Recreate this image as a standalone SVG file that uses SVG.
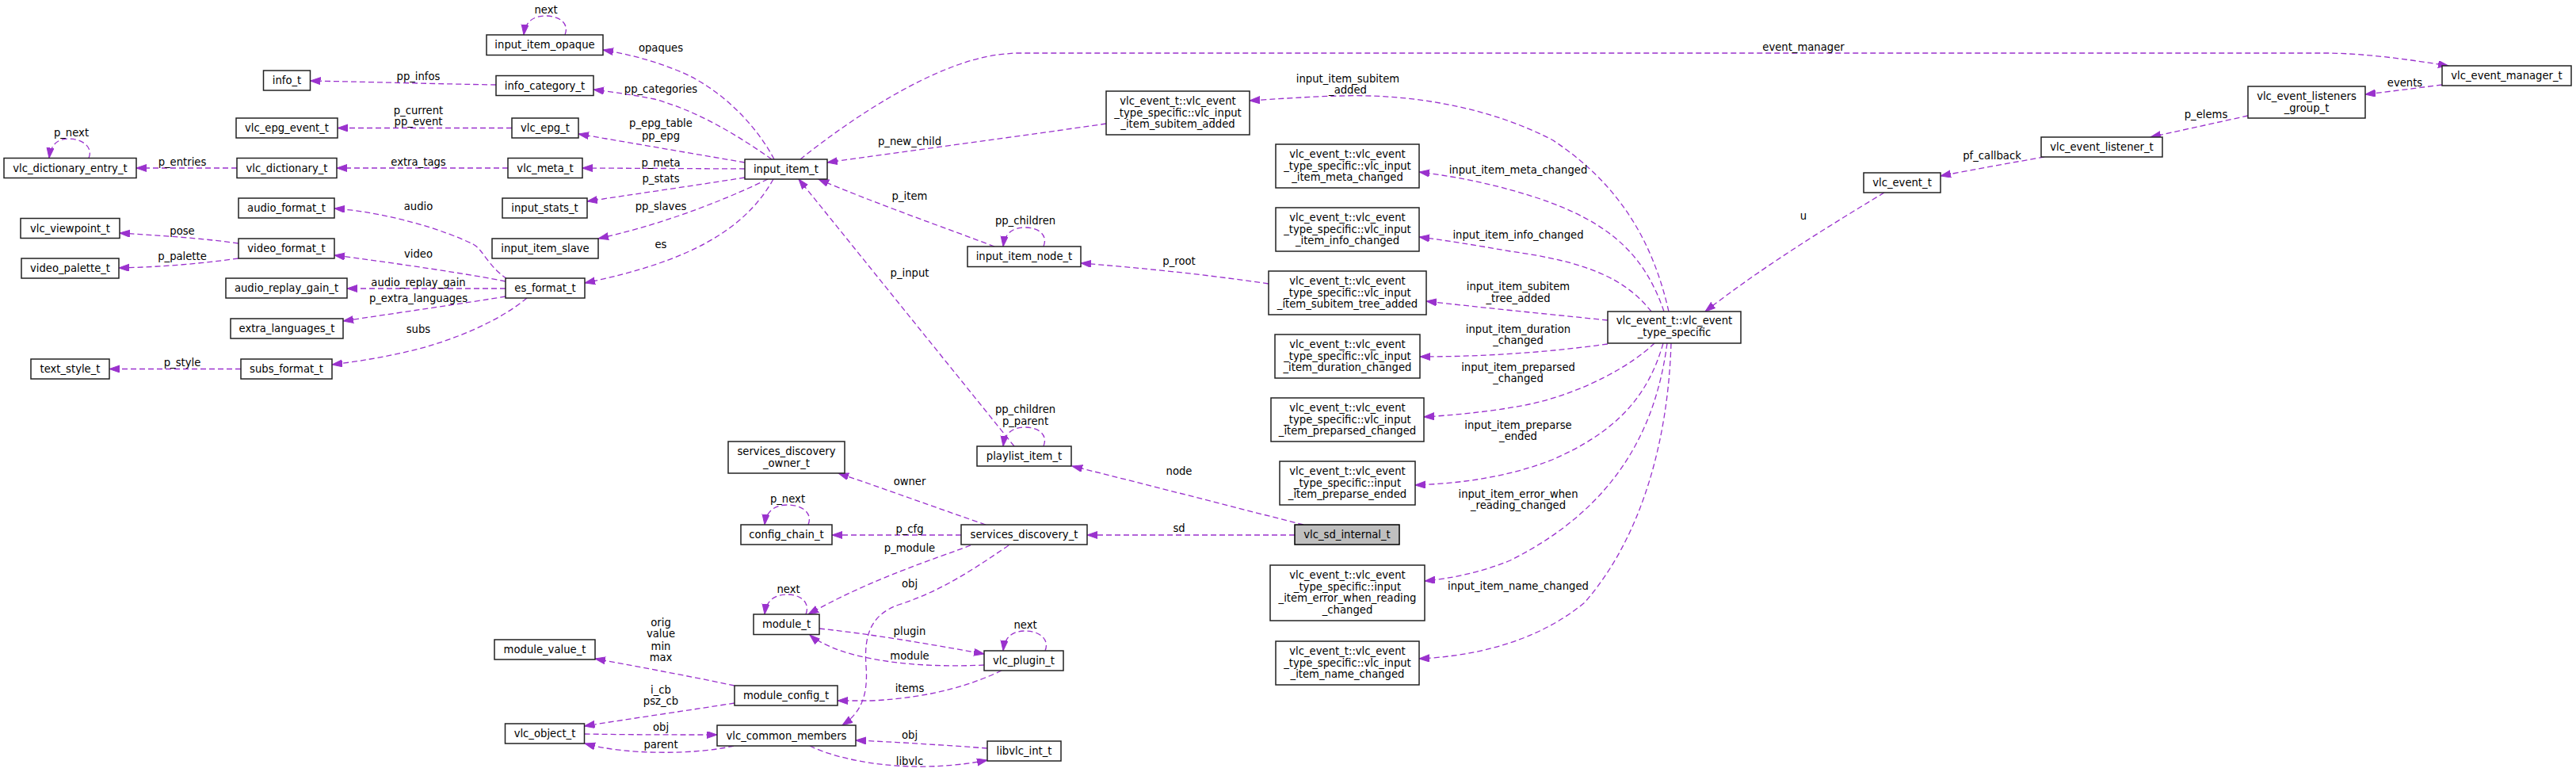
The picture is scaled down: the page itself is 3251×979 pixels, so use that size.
<svg xmlns="http://www.w3.org/2000/svg" width="3251" height="979" viewBox="0 0 3251 979">
<style>
.n rect{fill:#fff;stroke:#222;stroke-width:1.5}
.n.main rect{fill:#bfbfbf;stroke:#000}
text{font-family:"DejaVu Sans","Liberation Sans",sans-serif;font-size:13.2px;fill:#000;text-anchor:middle}
.e path{fill:none;stroke:#9a32cd;stroke-width:1.3;stroke-dasharray:7,4;marker-end:url(#a)}
</style>
<defs>
<marker id="a" markerWidth="14" markerHeight="10" refX="13" refY="4.5" orient="auto" markerUnits="userSpaceOnUse" viewBox="0 0 14 10">
<path d="M0,0 L13,4.5 L0,9 z" fill="#9a32cd" stroke="#9a32cd" stroke-width="1"/>
</marker>
</defs>
<rect width="3251" height="979" fill="#fff"/>
<g id="edges" class="e">
<path d="M112,199.5 C118,186 104,175 87,175 C72,175 64,183 62,199.5"/>
<path d="M299,212 L172,212"/>
<path d="M301,307 C250,300 200,297 151,294"/>
<path d="M301,326 C250,333 200,337 150,338"/>
<path d="M304,465.5 L138,465.5"/>
<path d="M626,107 C560,106 450,103 391.5,102"/>
<path d="M646,161.5 L426,161.5"/>
<path d="M641,212 L425,212"/>
<path d="M640,352 C615,335 610,315 597,308 C560,290 490,268 422,263"/>
<path d="M638,355 C600,347 500,332 422,322"/>
<path d="M638,364 L438,364"/>
<path d="M638,374 C590,382 500,395 433,405"/>
<path d="M665,376 C630,405 580,425 540,437 C500,448 460,455 419,460"/>
<path d="M977,201 C950,150 900,105 850,87 C820,75 790,68 761,63"/>
<path d="M974,201 C930,170 880,140 826,125 C800,120 780,117 749,113"/>
<path d="M940,205 C870,193 800,181 730,169"/>
<path d="M940,213 L735,212"/>
<path d="M940,224 C870,235 800,245 741,254"/>
<path d="M969,226 C930,245 850,280 755,301"/>
<path d="M976,226 C940,290 870,330 738,357"/>
<path d="M1010,201 C1080,145 1180,80 1259,69 L1280,67 L2940,67 C2990,68 3040,75 3090,83"/>
<path d="M1396,156 C1300,170 1150,190 1044,205"/>
<path d="M2106,393 C2085,300 2040,230 1960,177 C1880,135 1780,118 1690,121 C1650,122 1610,125 1577,127"/>
<path d="M1255,311 C1200,290 1100,255 1033,226"/>
<path d="M1317,311 C1323,296 1310,287 1294,287 C1277,287 1268,295 1266,311"/>
<path d="M1601,358 C1520,346 1440,338 1364,332"/>
<path d="M1280,563 L1008,226"/>
<path d="M1317,563 C1323,548 1310,539 1294,539 C1277,539 1268,547 1266,563"/>
<path d="M1645,662 C1550,638 1450,612 1353,588"/>
<path d="M1634,675 L1372,675"/>
<path d="M1244,662 C1180,640 1120,618 1058,597"/>
<path d="M1213,675 L1050,675"/>
<path d="M1020,662 C1026,647 1012,637 994,637 C977,637 967,645 965,662"/>
<path d="M1225,688 C1180,705 1100,730 1020,775"/>
<path d="M1273,688 C1230,717 1190,745 1134,763 C1100,775 1090,800 1093,840 C1096,880 1085,900 1063,915"/>
<path d="M1017,775 C1023,760 1010,750 994,750 C977,750 967,758 965,775"/>
<path d="M1034,793 C1100,800 1170,812 1242,825"/>
<path d="M1242,839 C1180,842 1110,838 1058,820 C1045,815 1030,808 1022,801"/>
<path d="M1319,821 C1325,806 1311,796 1294,796 C1277,796 1268,804 1266,821"/>
<path d="M1264,846 C1230,862 1180,880 1100,884 L1057,884"/>
<path d="M927,865 C870,853 810,842 751,831"/>
<path d="M927,887 C870,896 800,906 737.5,916"/>
<path d="M737.5,926 C800,927 850,927 905,927"/>
<path d="M926,941 C880,952 790,953 738,938"/>
<path d="M1246,944 C1190,940 1130,936 1080,934"/>
<path d="M1022,941 C1060,960 1150,978 1246,959"/>
<path d="M2100,393 C2075,320 2030,280 1941,250 C1880,230 1830,222 1791,217"/>
<path d="M2084,393 C2050,350 2000,330 1906,317 C1860,309 1830,304 1791,299"/>
<path d="M2029,404 C1950,396 1870,388 1800,380"/>
<path d="M2029,434 C1950,445 1870,450 1792,450"/>
<path d="M2088,433 C2060,460 2000,495 1930,510 C1880,520 1830,524 1797,526"/>
<path d="M2099,433 C2080,500 2040,545 1959,580 C1900,603 1840,610 1786,612"/>
<path d="M2104,433 C2090,540 2040,640 1906,707 C1870,722 1830,730 1798,733"/>
<path d="M2109,433 C2105,560 2070,680 2000,760 C1940,810 1860,828 1791,831"/>
<path d="M2378,243 C2300,290 2220,340 2152,393"/>
<path d="M2580,198 C2540,205 2490,214 2449,222"/>
<path d="M2837,146 C2800,154 2760,163 2714,173"/>
<path d="M3082,107 C3050,111 3020,115 2985,119"/>
<path d="M713,44 C719,29 705,20 689,20 C672,20 663,28 661,44"/>
</g>
<g id="edge-labels">
<text x="90" y="171.5">p_next</text>
<text x="230" y="208.5">p_entries</text>
<text x="230" y="295.5">pose</text>
<text x="230" y="327.5">p_palette</text>
<text x="230" y="461.5">p_style</text>
<text x="528" y="100.5">pp_infos</text>
<text x="528" y="143.5">p_current</text>
<text x="528" y="157.5">pp_event</text>
<text x="528" y="208.5">extra_tags</text>
<text x="528" y="264.5">audio</text>
<text x="528" y="324.5">video</text>
<text x="528" y="360.5">audio_replay_gain</text>
<text x="528" y="380.5">p_extra_languages</text>
<text x="528" y="419.5">subs</text>
<text x="689" y="16.5">next</text>
<text x="834" y="64.5">opaques</text>
<text x="834" y="116.5">pp_categories</text>
<text x="834" y="159.5">p_epg_table</text>
<text x="834" y="175.5">pp_epg</text>
<text x="834" y="209.5">p_meta</text>
<text x="834" y="229.5">p_stats</text>
<text x="834" y="264.5">pp_slaves</text>
<text x="834" y="312.5">es</text>
<text x="994" y="633.5">p_next</text>
<text x="995" y="747.5">next</text>
<text x="834" y="789.5">orig</text>
<text x="834" y="803.5">value</text>
<text x="834" y="819.5">min</text>
<text x="834" y="833.5">max</text>
<text x="834" y="874.5">i_cb</text>
<text x="834" y="888.5">psz_cb</text>
<text x="834" y="921.5">obj</text>
<text x="834" y="943.5">parent</text>
<text x="1148" y="182.5">p_new_child</text>
<text x="1148" y="251.5">p_item</text>
<text x="1148" y="348.5">p_input</text>
<text x="1294" y="282.5">pp_children</text>
<text x="1294" y="520.5">pp_children</text>
<text x="1294" y="535.5">p_parent</text>
<text x="1148" y="611.5">owner</text>
<text x="1148" y="671.5">p_cfg</text>
<text x="1148" y="695.5">p_module</text>
<text x="1148" y="740.5">obj</text>
<text x="1148" y="800.5">plugin</text>
<text x="1148" y="831.5">module</text>
<text x="1148" y="872.5">items</text>
<text x="1148" y="931.5">obj</text>
<text x="1148" y="964.5">libvlc</text>
<text x="1294" y="792.5">next</text>
<text x="1488" y="333.5">p_root</text>
<text x="1488" y="598.5">node</text>
<text x="1488" y="670.5">sd</text>
<text x="1701" y="103.5">input_item_subitem</text>
<text x="1701" y="117.5">_added</text>
<text x="1916" y="218.5">input_item_meta_changed</text>
<text x="1916" y="300.5">input_item_info_changed</text>
<text x="1916" y="365.5">input_item_subitem</text>
<text x="1916" y="380.5">_tree_added</text>
<text x="1916" y="419.5">input_item_duration</text>
<text x="1916" y="433.5">_changed</text>
<text x="1916" y="467.5">input_item_preparsed</text>
<text x="1916" y="482">_changed</text>
<text x="1916" y="540.5">input_item_preparse</text>
<text x="1916" y="555">_ended</text>
<text x="1916" y="627.5">input_item_error_when</text>
<text x="1916" y="641.5">_reading_changed</text>
<text x="1916" y="743.5">input_item_name_changed</text>
<text x="2276" y="63.5">event_manager</text>
<text x="2276" y="276.5">u</text>
<text x="2514" y="200.5">pf_callback</text>
<text x="2784" y="148.5">p_elems</text>
<text x="3035" y="108.5">events</text>
</g>
<g id="vlc_dictionary_entry_t" class="n"><rect x="5" y="199.5" width="167" height="25"/><text x="88.5" y="216.5">vlc_dictionary_entry_t</text></g>
<g id="vlc_viewpoint_t" class="n"><rect x="26" y="275.5" width="125" height="25"/><text x="88.5" y="292.5">vlc_viewpoint_t</text></g>
<g id="video_palette_t" class="n"><rect x="27" y="326" width="123" height="25"/><text x="88.5" y="343">video_palette_t</text></g>
<g id="text_style_t" class="n"><rect x="39" y="453" width="99" height="25"/><text x="88.5" y="470">text_style_t</text></g>
<g id="info_t" class="n"><rect x="332.5" y="89" width="59" height="25"/><text x="362" y="106">info_t</text></g>
<g id="vlc_epg_event_t" class="n"><rect x="298" y="149" width="128" height="25"/><text x="362" y="166">vlc_epg_event_t</text></g>
<g id="vlc_dictionary_t" class="n"><rect x="299" y="199.5" width="126" height="25"/><text x="362" y="216.5">vlc_dictionary_t</text></g>
<g id="audio_format_t" class="n"><rect x="301" y="250" width="121" height="25"/><text x="361.5" y="267">audio_format_t</text></g>
<g id="video_format_t" class="n"><rect x="301" y="301" width="121" height="25"/><text x="361.5" y="318">video_format_t</text></g>
<g id="audio_replay_gain_t" class="n"><rect x="285" y="351" width="153" height="25"/><text x="361.5" y="368">audio_replay_gain_t</text></g>
<g id="extra_languages_t" class="n"><rect x="291" y="402" width="142" height="25"/><text x="362" y="419">extra_languages_t</text></g>
<g id="subs_format_t" class="n"><rect x="304" y="453" width="115" height="25"/><text x="361.5" y="470">subs_format_t</text></g>
<g id="input_item_opaque" class="n"><rect x="614" y="44" width="147" height="25.5"/><text x="687.5" y="61">input_item_opaque</text></g>
<g id="info_category_t" class="n"><rect x="626" y="95.5" width="123" height="25"/><text x="687.5" y="112.5">info_category_t</text></g>
<g id="vlc_epg_t" class="n"><rect x="646" y="149" width="84" height="25"/><text x="688" y="166">vlc_epg_t</text></g>
<g id="vlc_meta_t" class="n"><rect x="641" y="199.5" width="94" height="25"/><text x="688" y="216.5">vlc_meta_t</text></g>
<g id="input_stats_t" class="n"><rect x="634" y="250" width="107" height="25"/><text x="687.5" y="267">input_stats_t</text></g>
<g id="input_item_slave" class="n"><rect x="621" y="301" width="134" height="25"/><text x="688" y="318">input_item_slave</text></g>
<g id="es_format_t" class="n"><rect x="638" y="351" width="100" height="25"/><text x="688" y="368">es_format_t</text></g>
<g id="module_value_t" class="n"><rect x="624" y="807" width="127" height="25"/><text x="687.5" y="824">module_value_t</text></g>
<g id="vlc_object_t" class="n"><rect x="637.5" y="913" width="100" height="25"/><text x="687.5" y="930">vlc_object_t</text></g>
<g id="input_item_t" class="n"><rect x="940" y="201" width="104" height="25"/><text x="992" y="218">input_item_t</text></g>
<g id="services_discovery_owner_t" class="n"><rect x="919" y="557" width="147" height="40"/><text x="992.5" y="573.5">services_discovery</text><text x="992.5" y="588.5">_owner_t</text></g>
<g id="config_chain_t" class="n"><rect x="935" y="662" width="115" height="25"/><text x="992.5" y="679">config_chain_t</text></g>
<g id="module_t" class="n"><rect x="951" y="775" width="83" height="25.5"/><text x="992.5" y="792">module_t</text></g>
<g id="module_config_t" class="n"><rect x="927" y="865" width="130" height="25"/><text x="992" y="882">module_config_t</text></g>
<g id="vlc_common_members" class="n"><rect x="905" y="915" width="175" height="26"/><text x="992.5" y="932.5">vlc_common_members</text></g>
<g id="input_item_node_t" class="n"><rect x="1221" y="311" width="143" height="25.5"/><text x="1292.5" y="328">input_item_node_t</text></g>
<g id="playlist_item_t" class="n"><rect x="1233" y="563" width="119" height="25"/><text x="1292.5" y="580">playlist_item_t</text></g>
<g id="services_discovery_t" class="n"><rect x="1213" y="662" width="159" height="25"/><text x="1292.5" y="679">services_discovery_t</text></g>
<g id="vlc_plugin_t" class="n"><rect x="1242" y="821" width="100" height="25"/><text x="1292" y="838">vlc_plugin_t</text></g>
<g id="libvlc_int_t" class="n"><rect x="1246" y="935" width="93" height="25"/><text x="1292.5" y="952">libvlc_int_t</text></g>
<g id="vlc_input_item_subitem_added" class="n"><rect x="1396" y="115" width="181" height="55"/><text x="1486.5" y="131.8">vlc_event_t::vlc_event</text><text x="1486.5" y="146.5">_type_specific::vlc_input</text><text x="1486.5" y="161.2">_item_subitem_added</text></g>
<g id="vlc_input_item_meta_changed" class="n"><rect x="1610" y="182" width="181" height="55"/><text x="1700.5" y="198.8">vlc_event_t::vlc_event</text><text x="1700.5" y="213.5">_type_specific::vlc_input</text><text x="1700.5" y="228.2">_item_meta_changed</text></g>
<g id="vlc_input_item_info_changed" class="n"><rect x="1610" y="262" width="181" height="55"/><text x="1700.5" y="278.8">vlc_event_t::vlc_event</text><text x="1700.5" y="293.5">_type_specific::vlc_input</text><text x="1700.5" y="308.2">_item_info_changed</text></g>
<g id="vlc_input_item_subitem_tree_added" class="n"><rect x="1601" y="342" width="199" height="55"/><text x="1700.5" y="358.8">vlc_event_t::vlc_event</text><text x="1700.5" y="373.5">_type_specific::vlc_input</text><text x="1700.5" y="388.2">_item_subitem_tree_added</text></g>
<g id="vlc_input_item_duration_changed" class="n"><rect x="1609" y="422" width="183" height="55"/><text x="1700.5" y="438.8">vlc_event_t::vlc_event</text><text x="1700.5" y="453.5">_type_specific::vlc_input</text><text x="1700.5" y="468.2">_item_duration_changed</text></g>
<g id="vlc_input_item_preparsed_changed" class="n"><rect x="1604" y="502" width="193" height="55"/><text x="1700.5" y="518.8">vlc_event_t::vlc_event</text><text x="1700.5" y="533.5">_type_specific::vlc_input</text><text x="1700.5" y="548.2">_item_preparsed_changed</text></g>
<g id="input_item_preparse_ended" class="n"><rect x="1615" y="582" width="171" height="55"/><text x="1700.5" y="598.8">vlc_event_t::vlc_event</text><text x="1700.5" y="613.5">_type_specific::input</text><text x="1700.5" y="628.2">_item_preparse_ended</text></g>
<g id="vlc_sd_internal_t" class="n main"><rect x="1634" y="662" width="132" height="25"/><text x="1700" y="679">vlc_sd_internal_t</text></g>
<g id="input_item_error_when_reading_changed" class="n"><rect x="1603" y="713" width="195" height="70"/><text x="1700.5" y="730">vlc_event_t::vlc_event</text><text x="1700.5" y="744.7">_type_specific::input</text><text x="1700.5" y="759.4">_item_error_when_reading</text><text x="1700.5" y="774">_changed</text></g>
<g id="vlc_input_item_name_changed" class="n"><rect x="1610" y="809" width="181" height="55"/><text x="1700.5" y="825.8">vlc_event_t::vlc_event</text><text x="1700.5" y="840.5">_type_specific::vlc_input</text><text x="1700.5" y="855.2">_item_name_changed</text></g>
<g id="vlc_event_type_specific" class="n"><rect x="2029" y="393" width="168" height="40"/><text x="2113" y="408.5">vlc_event_t::vlc_event</text><text x="2113" y="423.5">_type_specific</text></g>
<g id="vlc_event_t" class="n"><rect x="2352" y="218" width="97" height="25"/><text x="2400.5" y="235">vlc_event_t</text></g>
<g id="vlc_event_listener_t" class="n"><rect x="2576" y="173" width="153" height="25"/><text x="2652.5" y="190">vlc_event_listener_t</text></g>
<g id="vlc_event_listeners_group_t" class="n"><rect x="2837" y="109" width="148" height="40"/><text x="2911" y="125.5">vlc_event_listeners</text><text x="2911" y="140.5">_group_t</text></g>
<g id="vlc_event_manager_t" class="n"><rect x="3082" y="83" width="163" height="25"/><text x="3163.5" y="100">vlc_event_manager_t</text></g>
</svg>
